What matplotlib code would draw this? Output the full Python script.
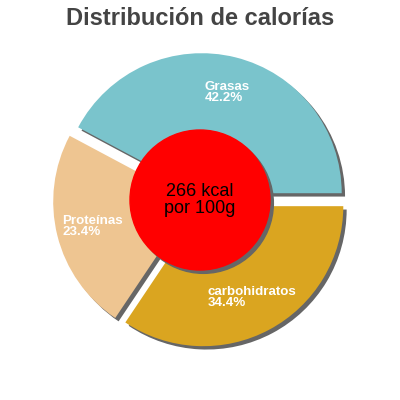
import matplotlib
matplotlib.use("Agg")
import matplotlib.pyplot as plt
import numpy as np
from matplotlib.patches import Circle

# data
labels = ["Grasas", "Proteínas", "carbohidratos"]
values = [42.2, 23.4, 34.4]
colors = ["#7ac4cc", "#eec591", "#daa520"]
title = "Distribución de calorías"
center_text = "266 kcal\npor 100g"

plt.rcParams['font.family'] = ['Liberation Sans', 'DejaVu Sans']

fig = plt.figure(figsize=(4, 4), dpi=100)
ax = fig.add_axes([0, 0, 1, 1])
lim = 200 / 140
ax.set_aspect('equal')
ax.axis('off')

explode = [0.05] * len(values)
sh = 0.024  # shadow offset

# shadow pie
ax.pie(values, explode=explode, colors=['#666666'] * len(values),
       center=(sh, -sh), radius=1, startangle=0, counterclock=True,
       wedgeprops=dict(linewidth=0))
wedges, _ = ax.pie(values, explode=explode, colors=colors, radius=1,
                   startangle=0, counterclock=True,
                   wedgeprops=dict(linewidth=0))
ax.set_xlim(-lim, lim)
ax.set_ylim(-lim, lim)

# labels inside slices
for w, lab, v in zip(wedges, labels, values):
    mid = np.deg2rad((w.theta1 + w.theta2) / 2)
    r = 0.79
    ax.text(r * np.cos(mid), r * np.sin(mid), f"{lab}\n{v}%",
            ha='center', va='center', multialignment='left',
            color='white', fontsize=9.6, fontweight='bold', linespacing=0.92)

# center circle with shadow
ax.add_patch(Circle((sh, -sh), 0.5, color='#666666', zorder=3))
ax.add_patch(Circle((0, 0), 0.5, color='#ff0000', zorder=4))
ax.text(0, 0, center_text, ha='center', va='center', fontsize=13,
        color='black', zorder=5, linespacing=1.0)

fig.text(0.5, 1 - 25 / 400, title, ha='center', va='baseline',
         fontsize=17, fontweight='bold', color='#444444')

fig.savefig("out.png", dpi=100, facecolor='white')
